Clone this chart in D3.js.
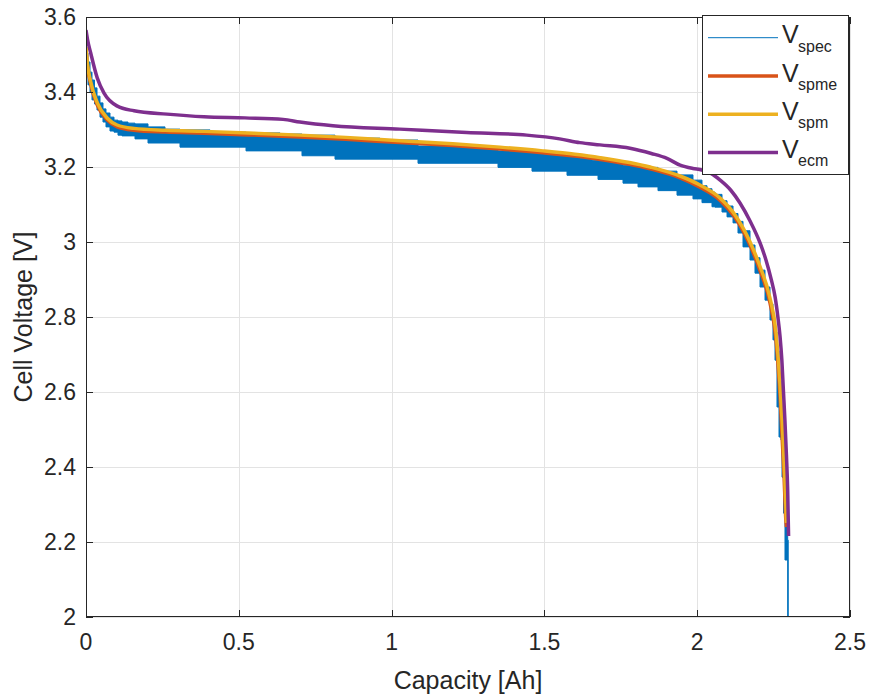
<!DOCTYPE html>
<html>
<head>
<meta charset="utf-8">
<script src="https://cdn.jsdelivr.net/npm/d3@7"></script>
<style>
  html, body { margin: 0; padding: 0; background: #ffffff; }
  svg { display: block; }
  text { font-family: "Liberation Sans", Arial, Helvetica, sans-serif; fill: #262626; }
</style>
</head>
<body>
<svg id="chart" width="869" height="697"></svg>
<script>
// ---------------- DATA ----------------
const xTicks = [0, 0.5, 1, 1.5, 2, 2.5];
const xTickLabels = ["0", "0.5", "1", "1.5", "2", "2.5"];
const yTicks = [2, 2.2, 2.4, 2.6, 2.8, 3, 3.2, 3.4, 3.6];
const yTickLabels = ["2", "2.2", "2.4", "2.6", "2.8", "3", "3.2", "3.4", "3.6"];

const seriesNames = ["spec", "spme", "spm", "ecm"];
const seriesColors = ["#0072BD", "#D95319", "#EDB120", "#7E2F8E"];

// Measured voltage (oscillating signal: high and low value within each step)
const specQ  = [0, 0.0065, 0.0131, 0.0196, 0.0278, 0.0360, 0.0458, 0.0556, 0.0654, 0.0785,
                0.0916, 0.1047, 0.1178, 0.1374, 0.1603, 0.2029, 0.2585, 0.3076, 0.4058, 0.5236,
                0.6348, 0.7068, 0.8148, 0.9620, 1.0864, 1.2238, 1.3482, 1.4594, 1.5118, 1.5740,
                1.5903, 1.6165, 1.6558, 1.6754, 1.7572, 1.8063, 1.8717, 1.9339, 1.9862, 2.0157,
                2.0321, 2.0484, 2.0582, 2.0812, 2.0976, 2.1172, 2.1335, 2.1499, 2.1728, 2.1891,
                2.2055, 2.2219, 2.2382, 2.2480, 2.2546, 2.2611, 2.2677, 2.2742, 2.2775, 2.2824,
                2.2873, 2.2961, 2.2978];
const specHi = [3.504, 3.480, 3.453, 3.432, 3.411, 3.389, 3.371, 3.355, 3.344, 3.333,
                3.325, 3.323, 3.320, 3.317, 3.315, 3.307, 3.301, 3.299, 3.293, 3.291,
                3.288, 3.285, 3.277, 3.272, 3.256, 3.252, 3.243, 3.243, 3.235, 3.235,
                3.227, 3.223, 3.217, 3.216, 3.205, 3.199, 3.189, 3.179, 3.165, 3.150,
                3.142, 3.133, 3.127, 3.110, 3.096, 3.076, 3.055, 3.030, 2.992, 2.958,
                2.925, 2.880, 2.835, 2.790, 2.760, 2.710, 2.630, 2.550, 2.500, 2.430,
                2.350, 2.205, 2.205];
const specLo = [3.445, 3.419, 3.400, 3.379, 3.368, 3.352, 3.333, 3.320, 3.307, 3.296,
                3.293, 3.285, 3.283, 3.283, 3.275, 3.264, 3.264, 3.253, 3.253, 3.243,
                3.243, 3.230, 3.221, 3.221, 3.210, 3.210, 3.199, 3.189, 3.189, 3.178,
                3.178, 3.178, 3.178, 3.167, 3.157, 3.147, 3.137, 3.125, 3.115, 3.105,
                3.105, 3.094, 3.093, 3.080, 3.067, 3.051, 3.024, 2.987, 2.952, 2.917,
                2.880, 2.845, 2.792, 2.739, 2.685, 2.560, 2.480, 2.472, 2.373, 2.277,
                2.152, 2.000, 2.000];

// Single particle model with electrolyte
const spmeQ = [0, 0.004, 0.0154, 0.037, 0.070, 0.102, 0.157, 0.26, 0.386, 0.55,
               0.70, 0.85, 1.027, 1.2, 1.355, 1.495, 1.60, 1.682, 1.846, 1.944,
               2.009, 2.075, 2.124, 2.173, 2.205, 2.238, 2.257, 2.271, 2.284, 2.290,
               2.292];
const spmeV = [3.515, 3.475, 3.421, 3.365, 3.325, 3.307, 3.298, 3.293, 3.290, 3.285,
               3.280, 3.274, 3.265, 3.257, 3.248, 3.238, 3.229, 3.220, 3.195, 3.171,
               3.146, 3.111, 3.065, 2.991, 2.925, 2.838, 2.745, 2.590, 2.380, 2.260,
               2.240];

// Single particle model
const spmQ = [0, 0.004, 0.0154, 0.037, 0.070, 0.102, 0.157, 0.26, 0.386, 0.55,
              0.70, 0.85, 1.027, 1.2, 1.355, 1.495, 1.60, 1.682, 1.846, 1.944,
              2.009, 2.075, 2.124, 2.173, 2.205, 2.238, 2.257, 2.271, 2.284, 2.290,
              2.292];
const spmV = [3.520, 3.480, 3.427, 3.371, 3.330, 3.312, 3.303, 3.298, 3.295, 3.290,
              3.285, 3.279, 3.270, 3.262, 3.253, 3.243, 3.234, 3.225, 3.200, 3.176,
              3.152, 3.117, 3.072, 3.000, 2.936, 2.851, 2.765, 2.619, 2.419, 2.299,
              2.251];

// Equivalent circuit model
const ecmQ = [0, 0.005, 0.0154, 0.037, 0.059, 0.101, 0.157, 0.265, 0.386, 0.52,
              0.645, 0.70, 0.808, 1.027, 1.246, 1.442, 1.55, 1.616, 1.682, 1.78,
              1.85, 1.901, 1.944, 1.986, 2.015, 2.045, 2.075, 2.11, 2.14, 2.173,
              2.206, 2.225, 2.242, 2.255, 2.264, 2.271, 2.277, 2.282, 2.287, 2.292,
              2.296, 2.299];
const ecmV = [3.565, 3.540, 3.504, 3.437, 3.397, 3.363, 3.350, 3.341, 3.334, 3.331,
              3.327, 3.320, 3.310, 3.301, 3.292, 3.285, 3.275, 3.265, 3.259, 3.250,
              3.236, 3.223, 3.205, 3.196, 3.192, 3.183, 3.165, 3.138, 3.104, 3.056,
              2.997, 2.952, 2.901, 2.853, 2.800, 2.749, 2.685, 2.605, 2.525, 2.432,
              2.339, 2.216];

// ---------------- CHART ----------------
const svg = d3.select("#chart");
const margin = {left: 86, right: 19, top: 17, bottom: 80};
const W = 869, H = 697;
const x = d3.scaleLinear().domain([0, 2.5]).range([margin.left, W - margin.right]);
const y = d3.scaleLinear().domain([2, 3.6]).range([H - margin.bottom, margin.top]);
const axisColor = "#262626";
const tickLen = 7;
const lineW = 3.5;

svg.append("rect").attr("width", W).attr("height", H).attr("fill", "#ffffff");

svg.append("defs").append("clipPath").attr("id", "clip")
  .append("rect").attr("x", x(0)).attr("y", y(3.6))
  .attr("width", x(2.5) - x(0)).attr("height", y(2) - y(3.6));

// grid
const grid = svg.append("g").attr("stroke", "#e3e3e3").attr("stroke-width", 1);
xTicks.forEach(t => grid.append("line")
  .attr("x1", Math.round(x(t)) + 0.5).attr("x2", Math.round(x(t)) + 0.5)
  .attr("y1", y(2)).attr("y2", y(3.6)));
yTicks.forEach(t => grid.append("line")
  .attr("y1", Math.round(y(t)) + 0.5).attr("y2", Math.round(y(t)) + 0.5)
  .attr("x1", x(0)).attr("x2", x(2.5)));

// data
const plot = svg.append("g").attr("clip-path", "url(#clip)");

const specData = specQ.map((q, i) => ({q, hi: specHi[i], lo: specLo[i]}));
const specArea = d3.area().x(d => x(d.q)).y0(d => y(d.lo)).y1(d => y(d.hi)).curve(d3.curveStepAfter);
plot.append("path").datum(specData).attr("d", specArea)
  .attr("fill", seriesColors[0]).attr("stroke", seriesColors[0]).attr("stroke-width", 1)
  .attr("stroke-linejoin", "miter");

const line = d3.line().x(d => x(d[0])).y(d => y(d[1])).curve(d3.curveMonotoneX);
const drawLine = (qs, vs, color) => plot.append("path")
  .datum(qs.map((q, i) => [q, vs[i]]))
  .attr("d", line).attr("fill", "none").attr("stroke", color)
  .attr("stroke-width", lineW).attr("stroke-linejoin", "round").attr("stroke-linecap", "butt");

drawLine(spmeQ, spmeV, seriesColors[1]);
drawLine(spmQ, spmV, seriesColors[2]);
drawLine(ecmQ, ecmV, seriesColors[3]);

// axes box and ticks
const axes = svg.append("g").attr("stroke", axisColor).attr("stroke-width", 1).attr("fill", "none");
axes.append("rect").attr("x", x(0) + 0.5).attr("y", y(3.6) + 0.5)
  .attr("width", x(2.5) - x(0) - 1).attr("height", y(2) - y(3.6) - 1);
xTicks.forEach(t => {
  const px = Math.round(x(t)) + 0.5;
  axes.append("line").attr("x1", px).attr("x2", px).attr("y1", y(2)).attr("y2", y(2) - tickLen);
  axes.append("line").attr("x1", px).attr("x2", px).attr("y1", y(3.6)).attr("y2", y(3.6) + tickLen);
});
yTicks.forEach(t => {
  const py = Math.round(y(t)) + 0.5;
  axes.append("line").attr("y1", py).attr("y2", py).attr("x1", x(0)).attr("x2", x(0) + tickLen);
  axes.append("line").attr("y1", py).attr("y2", py).attr("x1", x(2.5)).attr("x2", x(2.5) - tickLen);
});

// tick labels
const tickFont = 23;
svg.append("g").selectAll("text").data(xTicks).join("text")
  .attr("x", d => x(d)).attr("y", y(2) + 33)
  .attr("text-anchor", "middle").attr("font-size", tickFont)
  .text((d, i) => xTickLabels[i]);
svg.append("g").selectAll("text").data(yTicks).join("text")
  .attr("x", x(0) - 10).attr("y", d => y(d) + 8)
  .attr("text-anchor", "end").attr("font-size", tickFont)
  .text((d, i) => yTickLabels[i]);

// axis labels
svg.append("text").attr("x", (x(0) + x(2.5)) / 2).attr("y", 689)
  .attr("text-anchor", "middle").attr("font-size", 25).text("Capacity [Ah]");
svg.append("text").attr("transform", `translate(32, ${(y(2) + y(3.6)) / 2}) rotate(-90)`)
  .attr("text-anchor", "middle").attr("font-size", 25).text("Cell Voltage [V]");

// legend
const lg = svg.append("g");
lg.append("rect").attr("x", 702.5).attr("y", 15.5).attr("width", 146).attr("height", 159)
  .attr("fill", "#ffffff").attr("stroke", axisColor).attr("stroke-width", 1);
const legendWidths = [1, lineW, lineW, lineW];
seriesNames.forEach((name, i) => {
  const cy = 37.7 + i * 38.3;
  lg.append("line").attr("x1", 708).attr("x2", 778).attr("y1", cy).attr("y2", cy)
    .attr("stroke", seriesColors[i]).attr("stroke-width", legendWidths[i]);
  lg.append("text").attr("x", 782).attr("y", cy + 5.5).attr("font-size", 25).text("V");
  lg.append("text").attr("x", 798).attr("y", cy + 13.8).attr("font-size", 16).text(name);
});
</script>
</body>
</html>
